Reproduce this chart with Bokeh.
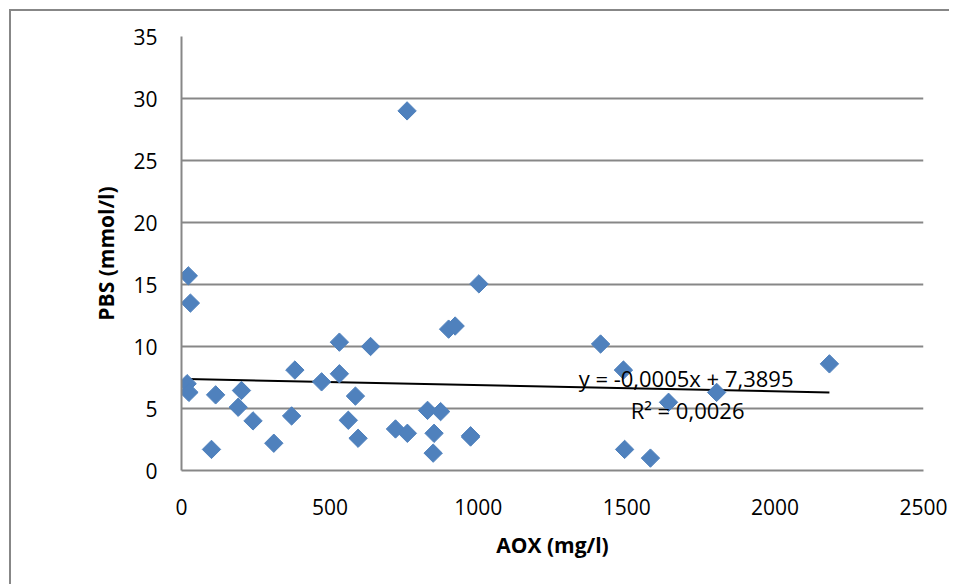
import numpy as np
from bokeh.plotting import figure
from bokeh.models import Range1d, FixedTicker, Label, LinearAxis
from bokeh.embed import file_html
from bokeh.resources import INLINE

# Data
aox = [23, 30, 19, 25, 115, 101, 202, 191, 241, 311, 382, 371, 472, 532, 532,
       637, 586, 562, 595, 721, 761, 760, 829, 873, 851, 848, 900, 922, 974,
       1002, 974, 1412, 1489, 1641, 1803, 1493, 1580, 2183]
pbs = [15.7, 13.5, 7.0, 6.3, 6.1, 1.7, 6.45, 5.1, 4.0, 2.2, 8.1, 4.4, 7.15, 10.35, 7.8,
       10.0, 6.0, 4.05, 2.6, 3.35, 3.0, 29.0, 4.85, 4.75, 3.0, 1.4, 11.4, 11.65, 2.8,
       15.05, 2.7, 10.2, 8.1, 5.5, 6.3, 1.7, 1.0, 8.6]
x_ticks = [0, 500, 1000, 1500, 2000, 2500]
y_ticks = [0, 5, 10, 15, 20, 25, 30, 35]
slope = -0.0005
intercept = 7.3895
eq_text = "y = -0,0005x + 7,3895"
r2_text = "R² = 0,0026"

FONT = "Open Sans"
GRAY = "#878787"
BLUE = "#4F81BD"

p = figure(width=940, height=575, output_backend="svg", toolbar_location=None,
           x_range=Range1d(0, 2500), y_range=Range1d(0, 35),
           min_border_left=170, min_border_right=28, min_border_top=25, min_border_bottom=116,
           x_axis_location=None, y_axis_location=None)
p.styles = {"margin-left": "9px", "margin-top": "9px",
            "border-top": f"2px solid {GRAY}", "border-left": f"2px solid {GRAY}"}
p.outline_line_color = None
p.background_fill_color = "white"
p.border_fill_color = "white"

xa = LinearAxis(ticker=FixedTicker(ticks=x_ticks), axis_label="AOX (mg/l)")
ya = LinearAxis(ticker=FixedTicker(ticks=y_ticks), axis_label="PBS (mmol/l)")
for ax in (xa, ya):
    ax.axis_line_color = GRAY
    ax.axis_line_width = 2
    ax.major_tick_line_color = None
    ax.minor_tick_line_color = None
    ax.major_tick_out = 0
    ax.major_tick_in = 0
    ax.minor_tick_out = 0
    ax.major_label_text_font = FONT
    ax.major_label_text_font_size = "21px"
    ax.major_label_text_color = "black"
    ax.axis_label_text_font = FONT
    ax.axis_label_text_font_size = "21px"
    ax.axis_label_text_font_style = "bold"
    ax.axis_label_text_color = "black"
xa.major_label_standoff = 28
xa.axis_label_standoff = 13
ya.major_label_standoff = 24
ya.axis_label_standoff = 10
p.add_layout(xa, "below")
p.add_layout(ya, "left")

p.xgrid.visible = False
p.ygrid.ticker = FixedTicker(ticks=y_ticks)
p.ygrid.grid_line_color = GRAY
p.ygrid.grid_line_width = 2

# Trendline
tx = np.array([min(aox), max(aox)])
ty = slope * tx + intercept
p.line(tx, ty, line_color="black", line_width=2)

# Points
p.scatter(aox, pbs, marker="square", angle=np.pi / 4, size=13,
          fill_color=BLUE, line_color=BLUE, line_width=1)

p.add_layout(Label(x=1700, y=7.42, text=eq_text, text_align="center", text_baseline="middle",
                   text_font=FONT, text_font_size="22px", text_color="black"))
p.add_layout(Label(x=1705, y=4.84, text=r2_text, text_align="center", text_baseline="middle",
                   text_font=FONT, text_font_size="22px", text_color="black"))

open("out.html", "w").write(file_html(p, INLINE))
